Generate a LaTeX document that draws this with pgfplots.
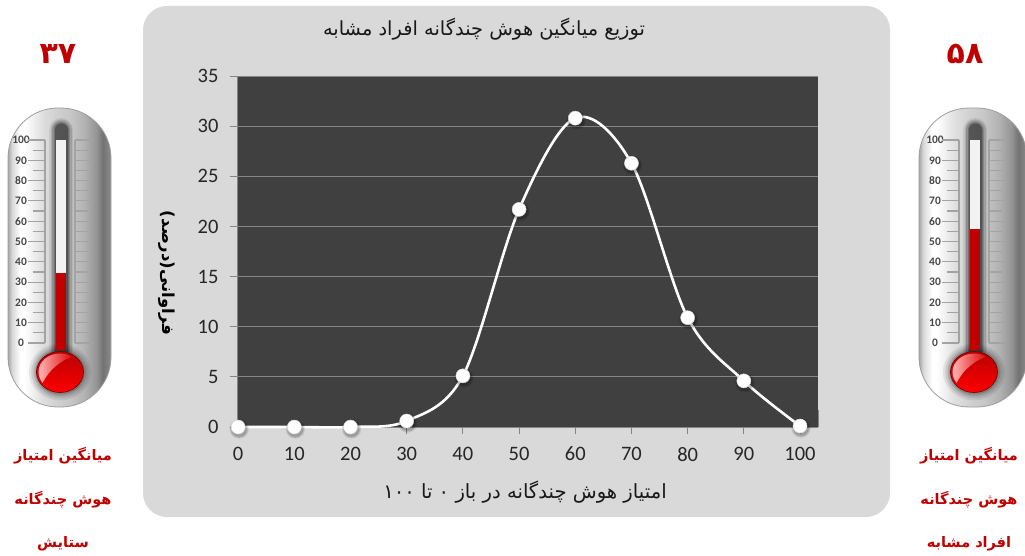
\documentclass[border=0pt]{standalone}
\usepackage{fontspec}
\usepackage{pgfplots}
\pgfplotsset{compat=1.18}
\setmainfont{Carlito}
\newfontfamily\fa[Script=Arabic]{DejaVu Sans}
\newfontfamily\fab[Script=Arabic]{DejaVu Sans Bold}
\TeXXeTstate=1
\definecolor{panel}{HTML}{D9D9D9}
\definecolor{plotbg}{HTML}{404040}
\definecolor{gridc}{HTML}{858585}
\definecolor{dred}{HTML}{C00000}
\pgfdeclarehorizontalshading{thermo}{100bp}{%
 color(0bp)=(black!35); color(25bp)=(black!35);
 color(27bp)=(black!15); color(31bp)=(white); color(33bp)=(white);
 color(42bp)=(black!13); color(48bp)=(black!18); color(55bp)=(black!22);
 color(62bp)=(black!30); color(68bp)=(black!42); color(71bp)=(black!55); color(74bp)=(black!48);
 color(75bp)=(black!40); color(100bp)=(black!40)}
\pgfplotstableread{
x y
0 0
10 0
20 0
30 0.6
40 5.1
50 21.7
60 30.8
70 26.3
80 10.9
90 4.6
100 0.1
}\dist
% #1 x offset, #2 left edge of body, #3 right edge of body
\newcommand{\thermobody}[3]{%
 \begin{scope}[xshift=#1pt]
  \path[shading=thermo,rounded corners=50pt] (#2,108) rectangle (#3,407);
  \draw[black!38,line width=0.8pt,rounded corners=50pt] (#2,108) rectangle (#3,407);
  \foreach \w/\o in {24/.08,21/.12,18/.16,15/.2,13/.24}{
    \draw[black,opacity=\o,line width=\w pt,line cap=round] (61,130)--(61,350);}
  \foreach \r/\o in {1.35/.07,1.25/.09,1.15/.12,1.07/.15}{
    \fill[black,opacity=\o] (60,372) ellipse ({23*\r} and {21*\r});}
 \end{scope}}
\newcommand{\thermobulb}[1]{%
 \begin{scope}[xshift=#1pt]
  \shade[top color=red!72!black,bottom color=red,draw=red!45!black,line width=.6pt] (60,372) ellipse (23.5 and 20.5);
  \begin{scope}
   \clip (60,372) ellipse (21.5 and 18.5);
   \shade[left color=white!72!red,right color=red!85!black] (38,352) .. controls (50,350) and (66,350) .. (74,356) .. controls (62,360) and (50,368) .. (42,384) .. controls (38,378) .. cycle;
  \end{scope}
 \end{scope}}
\pgfplotsset{thermo axis/.style={
   scale only axis, width=65pt, height=203pt,
   xmin=28, xmax=93, ymin=0, ymax=100, clip=false,
   axis line style={draw=none},
   xtick=\empty, ytick={0,10,...,100},
   tick style={draw=none},
   yticklabel style={font=\fontsize{11.5}{12}\selectfont\bfseries, text=black!72, inner sep=0pt, anchor=center, xshift=-7pt},
   /pgf/number format/assume math mode=true}}
\newcommand{\thermoplots}[1]{%
 \addplot[fill=black!5,draw=none] coordinates {(56,-3.4)(66,-3.4)(66,100)(56,100)} --cycle;
 \addplot[fill=dred,draw=none] coordinates {(56,-3.4)(66,-3.4)(66,#1)(56,#1)} --cycle;
 \foreach \v in {0,10,...,100}{
  \edef\tmp{\noexpand\draw[black!36,line width=1.1pt] (axis cs:28,\v)--(axis cs:45,\v) (axis cs:75,\v)--(axis cs:93,\v);}\tmp}
 \foreach \v in {5,15,...,95}{
  \edef\tmp{\noexpand\draw[black!36,line width=1.1pt] (axis cs:33,\v)--(axis cs:45,\v) (axis cs:75,\v)--(axis cs:88,\v);}\tmp}
 \draw[black!36,line width=1.1pt] (axis cs:45,0)--(axis cs:45,100) (axis cs:75,0)--(axis cs:75,100);
}
\begin{document}
\begin{tikzpicture}
\path[use as bounding box] (0,0) rectangle (1025pt,555pt);
\clip (0,0) rectangle (1025pt,555pt);
\begin{scope}[x=1pt,y=-1pt,yshift=555pt]
 \fill[panel,rounded corners=24pt] (143,6) rectangle (890,517);
 \thermobody{0}{8}{111}
 \thermobody{914}{5}{113}
 \node[text=dred,font=\fab\fontsize{30}{32}\selectfont] at (58,54) {\beginR ۳۷\endR};
 \node[text=dred,font=\fab\fontsize{30}{32}\selectfont] at (965,54) {\beginR ۵۸\endR};
 \foreach \x/\a/\b/\c in {63/میانگین امتیاز/هوش چندگانه/ستایش,969/میانگین امتیاز/هوش چندگانه/افراد مشابه}{
  \node[text=dred,font=\fab\fontsize{14.5}{16}\selectfont] at (\x,456) {\beginR \a\endR};
  \node[text=dred,font=\fab\fontsize{14.5}{16}\selectfont] at (\x,500) {\beginR \b\endR};
  \node[text=dred,font=\fab\fontsize{14.5}{16}\selectfont] at (\x,544) {\beginR \c\endR};
 }
 \node[text=black!90,font=\fa\fontsize{19.4}{21}\selectfont] at (484,29) {\beginR توزیع میانگین هوش چندگانه افراد مشابه\endR};
 \node[text=black!90,font=\fa\fontsize{19.6}{21}\selectfont] at (525,492) {\beginR امتیاز هوش چندگانه در باز ۰ تا \beginL ۱۰۰\endL\endR};
 \node[text=black,font=\fab\fontsize{16.5}{18}\selectfont,rotate=-90] at (167,273) {\beginR فراوانی(درصد)\endR};
\end{scope}
\begin{axis}[thermo axis, at={(28pt,212pt)}, anchor=south west]
 \thermoplots{34.5}
\end{axis}
\begin{axis}[thermo axis, at={(942pt,212pt)}, anchor=south west]
 \thermoplots{56.2}
\end{axis}
\begin{scope}[x=1pt,y=-1pt,yshift=555pt]
 \thermobulb{0}
 \thermobulb{914}
\end{scope}
\begin{axis}[
  at={(237pt,128pt)}, anchor=south west, scale only axis,
  width=581pt, height=351pt,
  xmin=-0.2, xmax=103.2, ymin=0, ymax=35,
  xtick={0,10,...,100}, ytick={0,5,...,35},
  clip=false,
  axis background/.style={fill=plotbg},
  axis x line*=bottom, axis y line*=left,
  axis line style={gridc,line width=.8pt,-},
  ymajorgrids, grid style={gridc,line width=.9pt},
  tick style={gridc,line width=.8pt},
  xtick align=outside, ytick align=outside,
  major tick length=7pt,
  tick label style={font=\fontsize{20.5}{22}\selectfont,text=black!85},
  xticklabel style={yshift=-9.5pt},
  yticklabel style={xshift=-8pt},
  /pgf/number format/assume math mode=true,
]
\draw[gridc,line width=.8pt] (axis cs:103.2,0)--(axis cs:103.2,1.7);
\foreach \w/\o in {9.5/.07,8.5/.09,7.5/.12}{
 \edef\tmp{\noexpand\addplot[only marks,mark=*,mark size=\w pt,mark options={fill=black,draw=none,opacity=\o,xshift=1pt,yshift=-2pt}] table[x=x,y=y] {\noexpand\dist};}\tmp}
\addplot[white,line width=2.6pt,smooth,tension=0.55,mark=*,mark size=7pt,mark options={fill=white,draw=black!15,line width=.5pt}] table[x=x,y=y] {\dist};
\end{axis}
\end{tikzpicture}
\end{document}
